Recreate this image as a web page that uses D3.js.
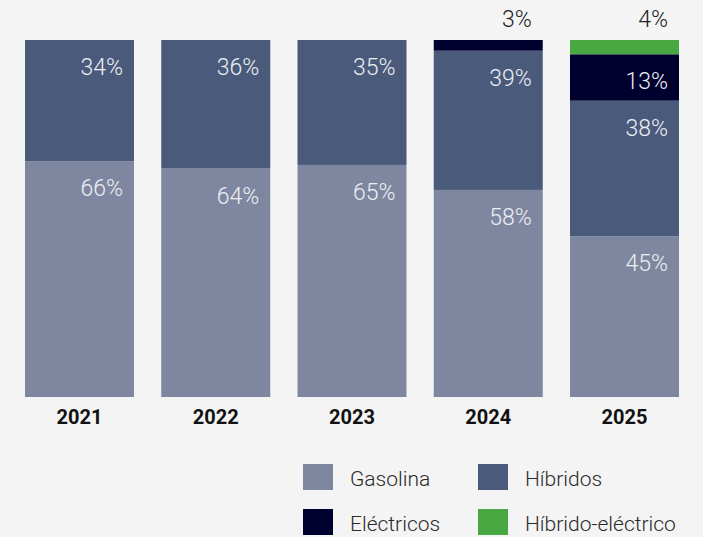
<!DOCTYPE html>
<html>
<head>
<meta charset="utf-8">
<script src="https://cdn.jsdelivr.net/npm/d3@7"></script>
<style>
  html, body { margin: 0; padding: 0; background: #f4f4f4; }
  svg { display: block; font-family: Roboto, "Noto Sans", sans-serif; }
</style>
</head>
<body>
<div class="canvas"></div>
<script>
// data
const years = ['2021', '2022', '2023', '2024', '2025'];
const gasolina = [66, 64, 65, 58, 45];
const hibridos = [34, 36, 35, 39, 38];
const electricos = [0, 0, 0, 3, 13];
const hibridoElectrico = [0, 0, 0, 0, 4];
const seriesNames = ['Gasolina', 'Híbridos', 'Eléctricos', 'Híbrido-eléctrico'];
const seriesColours = ['#7f87a0', '#4a5a7a', '#00002e', '#48a943'];

const width = 703, height = 537;

const svg = d3.select('.canvas')
  .append('svg')
    .attr('width', width)
    .attr('height', height);

// background
svg.append('rect')
  .attr('width', width)
  .attr('height', height)
  .attr('fill', '#f4f4f4');

// build table for stacking
const table = years.map((y, i) => ({
  year: y,
  'Gasolina': gasolina[i],
  'Híbridos': hibridos[i],
  'Eléctricos': electricos[i],
  'Híbrido-eléctrico': hibridoElectrico[i]
}));

const stack = d3.stack().keys(seriesNames);
const stacked = stack(table);

const x = d3.scaleBand()
  .domain(years)
  .range([25, 679])
  .paddingInner(0.2)
  .paddingOuter(0);

const y = d3.scaleLinear()
  .domain([0, 100])
  .range([397, 40]);

const colour = d3.scaleOrdinal()
  .domain(seriesNames)
  .range(seriesColours);

// bars
const layers = svg.selectAll('.layer')
  .data(stacked)
  .enter()
  .append('g')
    .attr('class', 'layer')
    .attr('fill', d => colour(d.key));

layers.selectAll('rect')
  .data(d => d)
  .enter()
  .append('rect')
    .attr('x', d => x(d.data.year))
    .attr('y', d => y(d[1]))
    .attr('width', x.bandwidth())
    .attr('height', d => y(d[0]) - y(d[1]));

// value labels: big segments inside, small ones above the bar
stacked.forEach(layer => {
  layer.forEach(d => {
    const v = d[1] - d[0];
    if (v <= 0) return;
    const inside = v >= 10;
    svg.append('text')
      .attr('x', x(d.data.year) + x.bandwidth() - 11)
      .attr('y', inside ? y(d[1]) + 35 : y(100) - 13)
      .attr('text-anchor', 'end')
      .attr('font-size', 23)
      .attr('font-weight', 300)
      .attr('fill', inside ? '#eceef3' : '#222222')
      .text(v + '%');
  });
});

// x axis (labels only)
const xAxis = d3.axisBottom(x).tickSize(0).tickPadding(0);
const xAxisGroup = svg.append('g')
  .attr('class', 'x-axis')
  .attr('transform', `translate(0, ${y(0)})`)
  .call(xAxis);
xAxisGroup.select('.domain').remove();
xAxisGroup.selectAll('text')
  .attr('dy', null)
  .attr('y', 27)
  .attr('font-size', 20)
  .attr('font-weight', 700)
  .attr('font-family', 'Roboto, sans-serif')
  .attr('fill', '#111111');

// legend, two columns
const legend = svg.selectAll('.legend')
  .data(seriesNames)
  .enter()
  .append('g')
    .attr('class', 'legend')
    .attr('transform', (d, i) => `translate(${303 + (i % 2) * 175}, ${464 + Math.floor(i / 2) * 45})`);

legend.append('rect')
  .attr('width', 30)
  .attr('height', 26)
  .attr('fill', d => colour(d));

legend.append('text')
  .attr('x', 47)
  .attr('y', 22)
  .attr('font-size', 21)
  .attr('font-weight', 300)
  .attr('fill', '#2a2a2a')
  .text(d => d);
</script>
</body>
</html>
